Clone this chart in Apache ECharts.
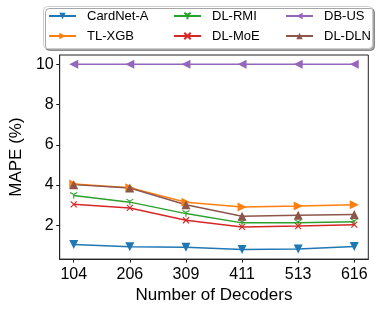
<!DOCTYPE html>
<html><head><meta charset="utf-8">
<script src="https://cdn.jsdelivr.net/npm/echarts@6/dist/echarts.min.js"></script>
<style>html,body{margin:0;padding:0;background:#fff}#c{width:382px;height:309px}</style>
</head><body><div id="c"></div>
<script>
var categories = ['104', '206', '309', '411', '513', '616'];
var cardnetA = [1.05, 0.93, 0.91, 0.80, 0.82, 0.95];
var tlXgb    = [4.05, 3.87, 3.14, 2.91, 2.96, 3.02];
var dlRmi    = [3.48, 3.15, 2.58, 2.12, 2.13, 2.17];
var dlMoe    = [3.04, 2.86, 2.25, 1.92, 1.96, 2.03];
var dbUs     = [10, 10, 10, 10, 10, 10];
var dlDln    = [4.02, 3.85, 3.02, 2.45, 2.50, 2.53];
var yTicks = [2, 4, 6, 8, 10];

var FONT = 'Liberation Sans';
var C = {blue:'#1f77b4', orange:'#ff7f0e', green:'#2ca02c', red:'#d62728', purple:'#9467bd', brown:'#8c564b'};
function pts(arr){ return arr.map(function(v,i){ return [i, v]; }); }
var triDown = 'path://M10,10 L10,20 M10,10 L1.34,5 M10,10 L18.66,5';
var xMark = 'path://M0,0 L10,10 M10,0 L0,10';

function mk(name, data, color, symbol, size, rot, stroke) {
  var s = {
    name: name, type: 'line', data: pts(data), symbol: symbol, symbolSize: size,
    symbolRotate: rot || 0, symbolKeepAspect: true,
    lineStyle: {color: color, width: 1.5},
    itemStyle: {color: color},
    emphasis: {disabled: true}, animation: false, z: 3
  };
  if (stroke) { s.itemStyle = {color: 'none', borderColor: color, borderWidth: 1.1}; }
  return s;
}

var chart = echarts.init(document.getElementById('c'), null, {renderer: 'canvas'});
var legendCommon = {
  orient: 'vertical', padding: 0, itemWidth: 27, itemHeight: 8, itemGap: 5,
  textStyle: {fontFamily: FONT, fontSize: 13, color: '#000', padding: [0,0,0,6], lineHeight: 15},
  selectedMode: false
};
chart.setOption({
  animation: false,
  graphic: [{
    type: 'rect', left: 43, top: 6, shape: {width: 329, height: 42, r: 4},
    style: {fill: '#fff', stroke: '#cccccc', lineWidth: 1, shadowColor: 'rgba(0,0,0,0.35)', shadowOffsetX: 2, shadowOffsetY: 2, shadowBlur: 0},
    z: -1
  }],
  legend: [
    Object.assign({left: 48, top: 8.5, data: ['CardNet-A', 'TL-XGB']}, legendCommon),
    Object.assign({left: 173, top: 8.5, data: ['DL-RMI', 'DL-MoE']}, legendCommon),
    Object.assign({left: 285, top: 8.5, data: ['DB-US', 'DL-DLN']}, legendCommon)
  ],
  grid: {left: 51.5, top: 55, right: 13.7, bottom: 48.3, show: true, borderColor: '#222', borderWidth: 1, backgroundColor: 'transparent'},
  xAxis: {
    type: 'value', min: -0.25, max: 5.25,
    name: 'Number of Decoders', nameLocation: 'middle', nameGap: 24,
    nameTextStyle: {fontFamily: FONT, fontSize: 17, color: '#000'},
    axisLine: {show: true, onZero: false, lineStyle: {color: '#222', width: 1}},
    axisTick: {show: true, length: 3.5, lineStyle: {color: '#222'}, customValues: [0,1,2,3,4,5]},
    axisLabel: {fontFamily: FONT, fontSize: 16, color: '#000', margin: 7, customValues: [0,1,2,3,4,5],
      formatter: function(v){ return categories[Math.round(v)]; }},
    splitLine: {show: false}
  },
  yAxis: {
    type: 'value', min: 0.32, max: 10.46,
    name: 'MAPE (%)', nameLocation: 'middle', nameGap: 25,
    nameTextStyle: {fontFamily: FONT, fontSize: 17, color: '#000'},
    axisLine: {show: true, onZero: false, lineStyle: {color: '#222', width: 1}},
    axisTick: {show: true, length: 3.5, lineStyle: {color: '#222'}, customValues: yTicks},
    axisLabel: {fontFamily: FONT, fontSize: 16, color: '#000', margin: 6, customValues: yTicks},
    splitLine: {show: false}
  },
  series: [
    mk('CardNet-A', cardnetA, C.blue, 'triangle', 9, 180),
    mk('TL-XGB', tlXgb, C.orange, 'triangle', 9, -90),
    mk('DL-RMI', dlRmi, C.green, triDown, 7, 0, true),
    mk('DL-MoE', dlMoe, C.red, xMark, 6, 0, true),
    mk('DB-US', dbUs, C.purple, 'triangle', 9, 90),
    mk('DL-DLN', dlDln, C.brown, 'triangle', 9, 0)
  ]
});
</script></body></html>
